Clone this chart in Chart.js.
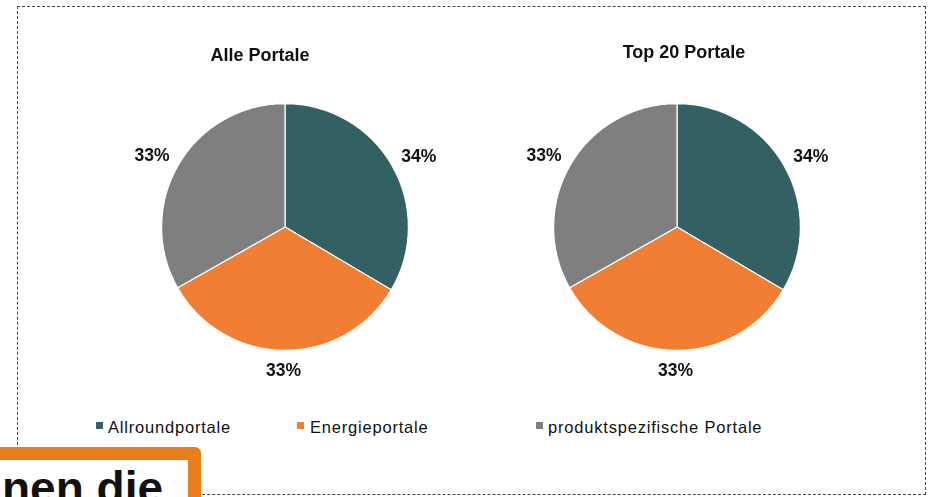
<!DOCTYPE html>
<html>
<head>
<meta charset="utf-8">
<script src="https://cdn.jsdelivr.net/npm/chart.js@4.4.1/dist/chart.umd.min.js"></script>
<style>
  html, body { margin:0; padding:0; }
  body { width:930px; height:497px; overflow:hidden; background:#fff; position:relative;
         font-family:"Liberation Sans", Arial, sans-serif; }
  #frame { position:absolute; left:17px; top:6px; width:907px; height:487px; border:1px dashed #444; }
  .wrap { position:absolute; top:30px; width:360px; height:360px; }
  #w1 { left:105px; }
  #w2 { left:497px; }
  .leg { position:absolute; top:417px; font-size:16.5px; letter-spacing:0.8px; line-height:20px; color:#111; white-space:nowrap; }
  .mk { position:absolute; top:422px; width:7px; height:7px; }
  #box { position:absolute; left:-20px; top:447px; width:195px; height:70px; border:13px solid #E97E1C; border-radius:6px; background:#fff; overflow:hidden; }
  #boxtxt { position:absolute; right:767px; top:465px; font-size:46px; font-weight:bold; line-height:46px; color:#111; white-space:nowrap; }
</style>
</head>
<body>
<div id="frame"></div>
<div class="wrap" id="w1"><canvas id="c1"></canvas></div>
<div class="wrap" id="w2"><canvas id="c2"></canvas></div>
<div id="legend"></div>
<div id="box"></div>
<div id="boxtxt">nen die</div>
<script>
// ---- data ----
const categories = ['Allroundportale', 'Energieportale', 'produktspezifische Portale'];
const chartTitles = ['Alle Portale', 'Top 20 Portale'];
const allePortale = [33.5, 33.3, 33.2];
const top20Portale = [33.5, 33.3, 33.2];
const sliceColors = ['#336163', '#F07F35', '#7F7F7F'];

// ---- legend (HTML) ----
const legendPos = [{mk:96, tx:108}, {mk:297, tx:310}, {mk:536, tx:548}];
const legendEl = document.getElementById('legend');
categories.forEach((c, i) => {
  const m = document.createElement('div');
  m.className = 'mk'; m.style.left = legendPos[i].mk + 'px'; m.style.background = sliceColors[i];
  legendEl.appendChild(m);
  const t = document.createElement('div');
  t.className = 'leg'; t.style.left = legendPos[i].tx + 'px'; t.textContent = c;
  legendEl.appendChild(t);
});

// ---- plugin: title + outside percentage labels ----
const piePlugin = {
  id: 'pieText',
  afterDatasetsDraw(chart, args, opts) {
    const ctx = chart.ctx;
    const meta = chart.getDatasetMeta(0);
    const data = chart.data.datasets[0].data;
    const total = data.reduce((a, b) => a + b, 0);
    ctx.save();
    ctx.fillStyle = '#111';
    ctx.textAlign = 'center';
    ctx.textBaseline = 'middle';
    let cx = 0, cy = 0;
    meta.data.forEach((arc, i) => {
      const p = arc.getProps(['x', 'y', 'startAngle', 'endAngle', 'outerRadius'], true);
      cx = p.x; cy = p.y;
      const a = (p.startAngle + p.endAngle) / 2;
      const txt = Math.round(data[i] / total * 100) + '%';
      ctx.font = 'bold 17.5px "Liberation Sans", Arial, sans-serif';
      const hw = ctx.measureText(txt).width / 2, hh = 6.5;
      const r = p.outerRadius + 13;
      const x = p.x + Math.cos(a) * r + Math.cos(a) * hw;
      const y = p.y + Math.sin(a) * r + Math.sin(a) * hh;
      ctx.fillText(txt, x, y + 1);
    });
    ctx.font = 'bold 18px "Liberation Sans", Arial, sans-serif';
    ctx.fillText(opts.text, cx + opts.dx, cy + opts.dy);
    ctx.restore();
  }
};

function makePie(id, values, title, tdx, tdy) {
  return new Chart(document.getElementById(id), {
    type: 'pie',
    data: {
      labels: categories,
      datasets: [{ data: values, backgroundColor: sliceColors, borderColor: '#ffffff', borderWidth: 1.2 }]
    },
    options: {
      responsive: true,
      maintainAspectRatio: false,
      animation: false,
      layout: { padding: { left: 56, right: 56, top: 73, bottom: 39 } },
      plugins: {
        legend: { display: false },
        tooltip: { enabled: false },
        title: { display: false },
        pieText: { text: title, dx: tdx, dy: tdy }
      }
    },
    plugins: [piePlugin]
  });
}

makePie('c1', allePortale, chartTitles[0], -25, -171);
makePie('c2', top20Portale, chartTitles[1], 7, -174);
</script>
</body>
</html>
